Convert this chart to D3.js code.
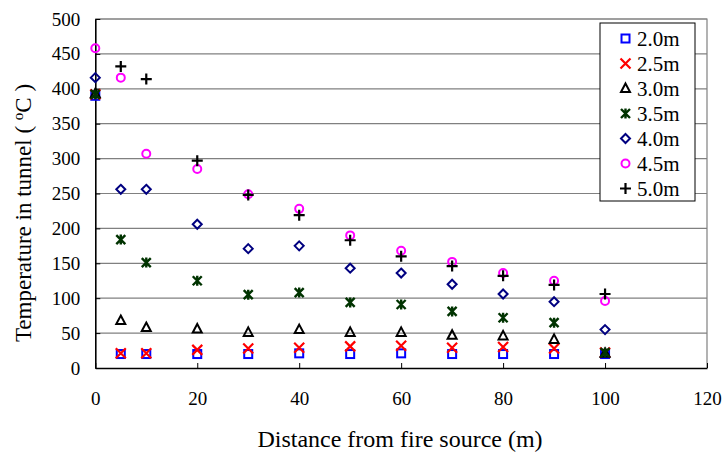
<!DOCTYPE html>
<html>
<head>
<meta charset="utf-8">
<script src="https://cdn.jsdelivr.net/npm/d3@7"></script>
<style>
  body { margin: 0; background: #fff; }
  svg text { font-family: "Liberation Serif", "Times New Roman", serif; fill: #000; }
</style>
</head>
<body>
<div id="chart"></div>
<script>
// distances from fire source (m)
var distances = [0, 5, 10, 20, 30, 40, 50, 60, 70, 80, 90, 100];

// temperatures for each height, null = no point
var t20 = [390, 20, 20, 20, 20, 21, 20, 21, 20, 20, 20, 20];
var t25 = [392, 21, 21, 26, 28, 29, 31, 32, 29, 30, 28, 22];
var t30 = [393, 68, 58, 56, 51, 55, 51, 51, 47, 46, 41, 21];
var t35 = [392, 184, 151, 125, 105, 108, 94, 91, 81, 72, 65, 22];
var t40 = [416, 256, 256, 206, 171, 175, 143, 136, 120, 106, 95, 55];
var t45 = [458, 416, 307, 285, 249, 228, 190, 168, 152, 136, 125, 96];
var t50 = [null, 432, 414, 297, 248, 219, 183, 160, 146, 132, 119, 106];

var seriesNames = ['2.0m', '2.5m', '3.0m', '3.5m', '4.0m', '4.5m', '5.0m'];
var seriesValues = [t20, t25, t30, t35, t40, t45, t50];
var seriesColors = ['#0000ff', '#ff0000', '#000000', '#003300', '#000080', '#ff00ff', '#000000'];
var seriesShapes = ['square', 'cross', 'triangle', 'star', 'diamond', 'circle', 'plus'];

var xTicks = [0, 20, 40, 60, 80, 100, 120];
var yTicks = [0, 50, 100, 150, 200, 250, 300, 350, 400, 450, 500];

var width = 725, height = 459;
var plotLeft = 95.3, plotRight = 707, plotTop = 19, plotBottom = 368;

var svg = d3.select('#chart').append('svg').attr('width', width).attr('height', height);

var x = d3.scaleLinear().domain([0, 120]).range([plotLeft, plotRight]);
var y = d3.scaleLinear().domain([0, 500]).range([plotBottom, plotTop]);

// gridlines
svg.append('g').selectAll('line')
    .data(yTicks.filter(function(d) { return d > 0; }))
    .enter().append('line')
    .attr('x1', plotLeft).attr('x2', plotRight)
    .attr('y1', function(d) { return y(d); })
    .attr('y2', function(d) { return y(d); })
    .attr('stroke', '#808080').attr('stroke-width', 1.2);

// plot border (top/right)
svg.append('path')
    .attr('d', 'M' + plotLeft + ',' + plotTop + 'H' + plotRight + 'V' + plotBottom)
    .attr('fill', 'none').attr('stroke', '#808080').attr('stroke-width', 1.2);

// axes
var xAxis = d3.axisBottom(x).tickValues(xTicks).tickSizeInner(-5).tickSizeOuter(0).tickPadding(24);
var gx = svg.append('g').attr('transform', 'translate(0,' + plotBottom + ')').call(xAxis);
gx.select('.domain').attr('stroke', '#000').attr('stroke-width', 1.6);
gx.selectAll('.tick line').attr('stroke', '#000');
gx.selectAll('text').attr('font-size', 19).attr('font-family', '"Liberation Serif", serif');

var yAxis = d3.axisLeft(y).tickValues(yTicks).tickSizeInner(-5).tickSizeOuter(0).tickPadding(15);
var gy = svg.append('g').attr('transform', 'translate(' + plotLeft + ',0)').call(yAxis);
gy.select('.domain').attr('stroke', '#000').attr('stroke-width', 1.6);
gy.selectAll('.tick line').attr('stroke', '#000');
gy.selectAll('text').attr('font-size', 19).attr('font-family', '"Liberation Serif", serif');

// axis titles
svg.append('text')
    .attr('x', 400).attr('y', 447)
    .attr('text-anchor', 'middle')
    .attr('font-size', 24)
    .text('Distance from fire source (m)');

var yt = svg.append('text')
    .attr('transform', 'translate(31,213) rotate(-90)')
    .attr('text-anchor', 'middle')
    .attr('font-size', 23);
yt.append('tspan').text('Temperature in tunnel ( ');
yt.append('tspan').attr('dy', -8).attr('font-size', 15).text('o');
yt.append('tspan').attr('dy', 8).text('C )');

// marker drawing
function drawMarker(g, shape, color) {
    if (shape === 'square') {
        g.append('rect').attr('x', -4).attr('y', -4).attr('width', 8).attr('height', 8)
            .attr('fill', 'none').attr('stroke', color).attr('stroke-width', 2);
    } else if (shape === 'cross') {
        g.append('path').attr('d', 'M-5,-5L5,5M-5,5L5,-5')
            .attr('stroke', color).attr('stroke-width', 2.2);
    } else if (shape === 'triangle') {
        g.append('path').attr('d', 'M0,-5L4.5,3.5L-4.5,3.5Z')
            .attr('fill', 'none').attr('stroke', color).attr('stroke-width', 2);
    } else if (shape === 'star') {
        g.append('path').attr('d', 'M-4.5,-4.5L4.5,4.5M-4.5,4.5L4.5,-4.5M0,-5V5')
            .attr('stroke', color).attr('stroke-width', 2.4);
    } else if (shape === 'diamond') {
        g.append('path').attr('d', 'M0,-4.5L4.5,0L0,4.5L-4.5,0Z')
            .attr('fill', 'none').attr('stroke', color).attr('stroke-width', 2);
    } else if (shape === 'circle') {
        g.append('circle').attr('r', 4)
            .attr('fill', 'none').attr('stroke', color).attr('stroke-width', 2);
    } else if (shape === 'plus') {
        g.append('path').attr('d', 'M-5.5,0H5.5M0,-5.5V5.5')
            .attr('stroke', color).attr('stroke-width', 2.2);
    }
}

// points
seriesValues.forEach(function(vals, si) {
    var pts = distances.map(function(d, i) { return { x: d, v: vals[i] }; })
        .filter(function(p) { return p.v !== null; });
    svg.append('g').selectAll('g')
        .data(pts)
        .enter().append('g')
        .attr('transform', function(p) { return 'translate(' + x(p.x) + ',' + y(p.v) + ')'; })
        .each(function() { drawMarker(d3.select(this), seriesShapes[si], seriesColors[si]); });
});

// legend
var legend = svg.append('g');
legend.append('rect')
    .attr('x', 600).attr('y', 23).attr('width', 95).attr('height', 178)
    .attr('fill', '#fff').attr('stroke', '#000').attr('stroke-width', 1);
seriesNames.forEach(function(name, i) {
    var ly = 38.5 + i * 25;
    var g = legend.append('g').attr('transform', 'translate(625.5,' + ly + ')');
    drawMarker(g, seriesShapes[i], seriesColors[i]);
    legend.append('text').attr('x', 637).attr('y', ly + 7)
        .attr('font-size', 21).text(name);
});
</script>
</body>
</html>
